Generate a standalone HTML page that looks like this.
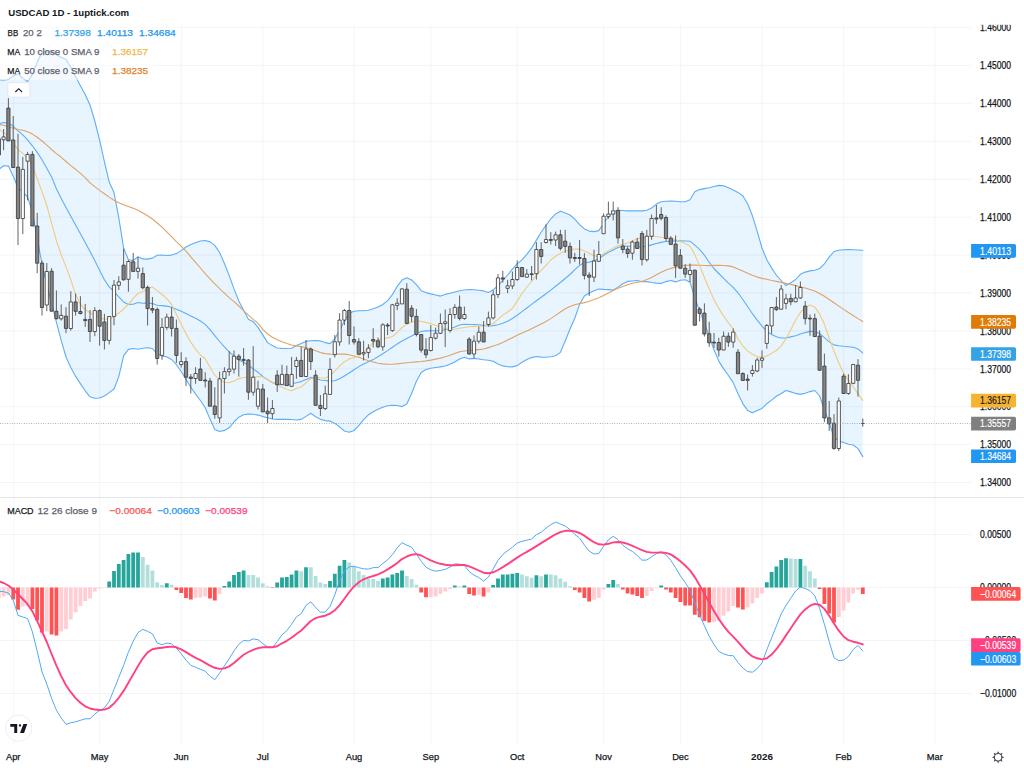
<!DOCTYPE html>
<html><head><meta charset="utf-8"><title>USDCAD 1D - 1uptick.com</title>
<style>html,body{margin:0;padding:0;background:#fff;overflow:hidden}svg{display:block}</style></head>
<body>
<svg width="1024" height="768" viewBox="0 0 1024 768" font-family="'Liberation Sans', sans-serif">
<rect width="1024" height="768" fill="#fff"/>
<path d="M13.7,24.5V745M99.6,24.5V745M181.2,24.5V745M262.8,24.5V745M354.0,24.5V745M430.8,24.5V745M517.2,24.5V745M603.6,24.5V745M680.4,24.5V745M762.0,24.5V745M843.6,24.5V745M934.8,24.5V745M0,27.5H971.0M0,65.4H971.0M0,103.3H971.0M0,141.3H971.0M0,179.2H971.0M0,217.1H971.0M0,255.0H971.0M0,292.9H971.0M0,330.9H971.0M0,368.8H971.0M0,406.7H971.0M0,444.6H971.0M0,482.5H971.0M0,534.5H971.0M0,587.5H971.0M0,640.5H971.0M0,693.5H971.0" stroke="#f0f1f4" stroke-width="0.8" fill="none"/>
<path d="M0,497.5H1024" stroke="#e0e3eb" stroke-width="1"/>
<path d="M-1.2,79.7 L3.6,80.3 L8.4,79.5 L13.2,75.9 L18.0,73.7 L22.8,78.4 L27.6,81.5 L32.4,74.4 L37.2,62.3 L42.0,52.3 L46.8,51.6 L51.6,52.1 L56.4,54.6 L61.2,57.4 L66.0,59.2 L70.8,67.2 L75.6,76.6 L80.4,85.8 L85.2,94.4 L90.0,105.0 L94.8,121.0 L99.6,140.1 L104.4,161.7 L109.2,182.1 L114.0,192.6 L118.8,217.9 L123.6,247.9 L128.4,259.8 L133.2,260.4 L138.0,256.8 L142.8,258.9 L147.6,259.1 L152.4,258.1 L157.2,255.2 L162.0,255.0 L166.8,255.5 L171.6,255.1 L176.4,253.6 L181.2,250.6 L186.0,247.0 L190.8,244.6 L195.6,242.8 L200.4,241.0 L205.2,240.5 L210.0,241.9 L214.8,245.4 L219.6,252.5 L224.4,263.5 L229.2,275.6 L234.0,288.9 L238.8,301.0 L243.6,310.3 L248.4,319.3 L253.2,321.7 L258.0,327.4 L262.8,334.9 L267.6,342.6 L272.4,345.6 L277.2,348.0 L282.0,348.4 L286.8,348.5 L291.6,348.3 L296.4,345.6 L301.2,343.5 L306.0,341.4 L310.8,340.8 L315.6,340.5 L320.4,340.9 L325.2,342.6 L330.0,343.6 L334.8,338.8 L339.6,330.3 L344.4,320.7 L349.2,313.2 L354.0,311.2 L358.8,310.8 L363.6,310.7 L368.4,310.3 L373.2,308.8 L378.0,307.1 L382.8,304.5 L387.6,300.6 L392.4,294.6 L397.2,286.3 L402.0,280.1 L406.8,277.7 L411.6,279.9 L416.4,284.7 L421.2,290.7 L426.0,292.6 L430.8,293.9 L435.6,295.0 L440.4,296.1 L445.2,294.4 L450.0,293.3 L454.8,292.0 L459.6,290.8 L464.4,290.0 L469.2,289.5 L474.0,289.8 L478.8,290.2 L483.6,290.9 L488.4,292.4 L493.2,289.8 L498.0,285.7 L502.8,280.4 L507.6,275.0 L512.4,269.2 L517.2,263.9 L522.0,259.8 L526.8,254.4 L531.6,248.2 L536.4,240.1 L541.2,232.0 L546.0,225.4 L550.8,218.8 L555.6,213.9 L560.4,211.3 L565.2,213.0 L570.0,215.0 L574.8,219.2 L579.6,224.6 L584.4,228.9 L589.2,231.1 L594.0,231.6 L598.8,230.6 L603.6,223.3 L608.4,216.7 L613.2,211.8 L618.0,210.4 L622.8,210.5 L627.6,210.9 L632.4,210.9 L637.2,210.8 L642.0,210.9 L646.8,210.2 L651.6,208.0 L656.4,204.1 L661.2,201.8 L666.0,201.2 L670.8,201.0 L675.6,201.2 L680.4,201.8 L685.2,201.8 L690.0,199.8 L694.8,191.7 L699.6,189.6 L704.4,188.6 L709.2,187.7 L714.0,186.5 L718.8,185.4 L723.6,185.7 L728.4,187.7 L733.2,190.0 L738.0,192.4 L742.8,195.8 L747.6,203.8 L752.4,215.7 L757.2,231.3 L762.0,248.0 L766.8,259.7 L771.6,267.9 L776.4,275.3 L781.2,280.5 L786.0,285.6 L790.8,282.8 L795.6,279.5 L800.4,274.3 L805.2,272.1 L810.0,270.9 L814.8,270.3 L819.6,268.6 L824.4,263.8 L829.2,257.1 L834.0,251.5 L838.8,250.3 L843.6,249.8 L848.4,249.6 L853.2,249.7 L858.0,250.0 L862.8,250.2 L862.8,456.6 L858.0,448.6 L853.2,445.0 L848.4,444.2 L843.6,442.6 L838.8,440.9 L834.0,437.2 L829.2,423.1 L824.4,409.7 L819.6,396.0 L814.8,390.5 L810.0,391.6 L805.2,393.2 L800.4,394.4 L795.6,393.4 L790.8,391.9 L786.0,390.5 L781.2,393.5 L776.4,396.3 L771.6,400.1 L766.8,403.7 L762.0,408.4 L757.2,410.6 L752.4,412.7 L747.6,410.4 L742.8,403.6 L738.0,393.8 L733.2,382.6 L728.4,375.5 L723.6,368.9 L718.8,361.1 L714.0,349.8 L709.2,336.4 L704.4,323.1 L699.6,311.1 L694.8,297.5 L690.0,282.2 L685.2,279.7 L680.4,280.2 L675.6,281.9 L670.8,280.5 L666.0,281.6 L661.2,283.4 L656.4,283.1 L651.6,282.5 L646.8,281.6 L642.0,281.7 L637.2,280.5 L632.4,281.0 L627.6,281.4 L622.8,283.7 L618.0,287.1 L613.2,290.1 L608.4,289.6 L603.6,289.4 L598.8,289.0 L594.0,290.8 L589.2,293.1 L584.4,295.9 L579.6,304.4 L574.8,318.2 L570.0,329.0 L565.2,341.0 L560.4,352.4 L555.6,355.7 L550.8,356.8 L546.0,357.2 L541.2,357.1 L536.4,356.5 L531.6,357.6 L526.8,359.5 L522.0,362.3 L517.2,365.6 L512.4,366.9 L507.6,366.8 L502.8,365.9 L498.0,364.0 L493.2,361.3 L488.4,360.2 L483.6,359.7 L478.8,359.0 L474.0,358.4 L469.2,358.9 L464.4,357.3 L459.6,359.1 L454.8,361.9 L450.0,364.2 L445.2,366.0 L440.4,366.9 L435.6,367.5 L430.8,368.3 L426.0,369.5 L421.2,372.5 L416.4,381.2 L411.6,393.6 L406.8,403.9 L402.0,406.6 L397.2,405.5 L392.4,405.2 L387.6,405.7 L382.8,407.3 L378.0,409.3 L373.2,411.8 L368.4,414.8 L363.6,419.7 L358.8,425.7 L354.0,430.5 L349.2,432.3 L344.4,431.0 L339.6,426.8 L334.8,423.4 L330.0,421.1 L325.2,420.6 L320.4,419.2 L315.6,416.8 L310.8,413.3 L306.0,416.4 L301.2,419.4 L296.4,420.0 L291.6,419.5 L286.8,419.4 L282.0,419.4 L277.2,419.4 L272.4,419.0 L267.6,417.8 L262.8,416.6 L258.0,415.1 L253.2,414.3 L248.4,414.1 L243.6,414.8 L238.8,417.2 L234.0,422.0 L229.2,427.8 L224.4,430.4 L219.6,431.5 L214.8,429.4 L210.0,419.1 L205.2,407.7 L200.4,400.5 L195.6,394.1 L190.8,387.2 L186.0,379.3 L181.2,371.5 L176.4,364.7 L171.6,359.5 L166.8,357.0 L162.0,355.9 L157.2,354.1 L152.4,348.5 L147.6,347.7 L142.8,348.3 L138.0,349.2 L133.2,348.5 L128.4,349.4 L123.6,355.9 L118.8,376.6 L114.0,389.0 L109.2,392.6 L104.4,396.0 L99.6,398.0 L94.8,398.2 L90.0,396.8 L85.2,390.8 L80.4,383.6 L75.6,376.4 L70.8,367.6 L66.0,357.0 L61.2,340.3 L56.4,322.1 L51.6,303.3 L46.8,284.7 L42.0,264.4 L37.2,238.2 L32.4,212.4 L27.6,197.0 L22.8,192.1 L18.0,187.7 L13.2,176.2 L8.4,166.1 L3.6,165.8 L-1.2,169.4Z" fill="#2196f3" fill-opacity="0.1"/>
<g fill="none" stroke-linejoin="round" stroke-linecap="round">
<path d="M-1.2,123.8 L3.6,122.5 L8.4,123.0 L13.2,126.1 L18.0,130.8 L22.8,134.9 L27.6,139.8 L32.4,145.8 L37.2,152.4 L42.0,159.8 L46.8,168.2 L51.6,176.9 L56.4,188.8 L61.2,198.4 L66.0,207.4 L70.8,216.2 L75.6,225.0 L80.4,233.8 L85.2,242.6 L90.0,251.4 L94.8,260.6 L99.6,270.2 L104.4,279.7 L109.2,286.9 L114.0,291.7 L118.8,296.8 L123.6,301.9 L128.4,304.4 L133.2,304.2 L138.0,302.5 L142.8,303.2 L147.6,303.0 L152.4,303.6 L157.2,305.2 L162.0,305.6 L166.8,306.1 L171.6,307.2 L176.4,309.2 L181.2,311.2 L186.0,313.5 L190.8,315.9 L195.6,318.3 L200.4,321.0 L205.2,324.4 L210.0,329.6 L214.8,335.6 L219.6,341.5 L224.4,346.9 L229.2,351.9 L234.0,356.1 L238.8,359.9 L243.6,362.2 L248.4,365.3 L253.2,368.9 L258.0,372.3 L262.8,376.5 L267.6,379.8 L272.4,382.5 L277.2,384.1 L282.0,384.8 L286.8,385.0 L291.6,383.8 L296.4,382.7 L301.2,381.6 L306.0,379.5 L310.8,377.4 L315.6,378.4 L320.4,380.0 L325.2,380.5 L330.0,381.1 L334.8,380.8 L339.6,378.7 L344.4,375.9 L349.2,373.0 L354.0,369.7 L358.8,366.6 L363.6,363.9 L368.4,361.7 L373.2,359.6 L378.0,356.7 L382.8,353.8 L387.6,350.6 L392.4,347.3 L397.2,343.9 L402.0,341.1 L406.8,338.5 L411.6,335.9 L416.4,333.4 L421.2,331.5 L426.0,330.9 L430.8,330.8 L435.6,330.8 L440.4,330.7 L445.2,329.7 L450.0,328.7 L454.8,327.0 L459.6,325.0 L464.4,324.2 L469.2,324.5 L474.0,324.5 L478.8,324.8 L483.6,325.4 L488.4,325.9 L493.2,325.6 L498.0,324.7 L502.8,323.2 L507.6,321.3 L512.4,318.5 L517.2,315.2 L522.0,311.6 L526.8,308.0 L531.6,304.4 L536.4,300.8 L541.2,297.2 L546.0,293.7 L550.8,290.1 L555.6,286.3 L560.4,282.5 L565.2,278.5 L570.0,274.5 L574.8,269.7 L579.6,265.3 L584.4,262.8 L589.2,262.1 L594.0,260.8 L598.8,258.9 L603.6,255.3 L608.4,252.3 L613.2,249.9 L618.0,247.5 L622.8,246.2 L627.6,246.0 L632.4,246.5 L637.2,246.9 L642.0,246.7 L646.8,246.2 L651.6,244.9 L656.4,243.5 L661.2,242.4 L666.0,241.5 L670.8,241.1 L675.6,240.9 L680.4,240.8 L685.2,241.0 L690.0,241.2 L694.8,245.2 L699.6,249.4 L704.4,255.2 L709.2,262.3 L714.0,268.5 L718.8,273.5 L723.6,278.4 L728.4,283.1 L733.2,287.4 L738.0,292.8 L742.8,299.5 L747.6,306.5 L752.4,313.7 L757.2,320.2 L762.0,326.2 L766.8,331.2 L771.6,334.6 L776.4,336.7 L781.2,338.0 L786.0,338.0 L790.8,336.9 L795.6,335.7 L800.4,334.1 L805.2,332.6 L810.0,331.4 L814.8,331.4 L819.6,333.5 L824.4,337.7 L829.2,341.9 L834.0,344.9 L838.8,345.7 L843.6,346.3 L848.4,346.7 L853.2,347.3 L858.0,348.9 L862.8,353.2" stroke="#5eaef6" stroke-width="1.1"/>
<path d="M-1.2,79.7 L3.6,80.3 L8.4,79.5 L13.2,75.9 L18.0,73.7 L22.8,78.4 L27.6,81.5 L32.4,74.4 L37.2,62.3 L42.0,52.3 L46.8,51.6 L51.6,52.1 L56.4,54.6 L61.2,57.4 L66.0,59.2 L70.8,67.2 L75.6,76.6 L80.4,85.8 L85.2,94.4 L90.0,105.0 L94.8,121.0 L99.6,140.1 L104.4,161.7 L109.2,182.1 L114.0,192.6 L118.8,217.9 L123.6,247.9 L128.4,259.8 L133.2,260.4 L138.0,256.8 L142.8,258.9 L147.6,259.1 L152.4,258.1 L157.2,255.2 L162.0,255.0 L166.8,255.5 L171.6,255.1 L176.4,253.6 L181.2,250.6 L186.0,247.0 L190.8,244.6 L195.6,242.8 L200.4,241.0 L205.2,240.5 L210.0,241.9 L214.8,245.4 L219.6,252.5 L224.4,263.5 L229.2,275.6 L234.0,288.9 L238.8,301.0 L243.6,310.3 L248.4,319.3 L253.2,321.7 L258.0,327.4 L262.8,334.9 L267.6,342.6 L272.4,345.6 L277.2,348.0 L282.0,348.4 L286.8,348.5 L291.6,348.3 L296.4,345.6 L301.2,343.5 L306.0,341.4 L310.8,340.8 L315.6,340.5 L320.4,340.9 L325.2,342.6 L330.0,343.6 L334.8,338.8 L339.6,330.3 L344.4,320.7 L349.2,313.2 L354.0,311.2 L358.8,310.8 L363.6,310.7 L368.4,310.3 L373.2,308.8 L378.0,307.1 L382.8,304.5 L387.6,300.6 L392.4,294.6 L397.2,286.3 L402.0,280.1 L406.8,277.7 L411.6,279.9 L416.4,284.7 L421.2,290.7 L426.0,292.6 L430.8,293.9 L435.6,295.0 L440.4,296.1 L445.2,294.4 L450.0,293.3 L454.8,292.0 L459.6,290.8 L464.4,290.0 L469.2,289.5 L474.0,289.8 L478.8,290.2 L483.6,290.9 L488.4,292.4 L493.2,289.8 L498.0,285.7 L502.8,280.4 L507.6,275.0 L512.4,269.2 L517.2,263.9 L522.0,259.8 L526.8,254.4 L531.6,248.2 L536.4,240.1 L541.2,232.0 L546.0,225.4 L550.8,218.8 L555.6,213.9 L560.4,211.3 L565.2,213.0 L570.0,215.0 L574.8,219.2 L579.6,224.6 L584.4,228.9 L589.2,231.1 L594.0,231.6 L598.8,230.6 L603.6,223.3 L608.4,216.7 L613.2,211.8 L618.0,210.4 L622.8,210.5 L627.6,210.9 L632.4,210.9 L637.2,210.8 L642.0,210.9 L646.8,210.2 L651.6,208.0 L656.4,204.1 L661.2,201.8 L666.0,201.2 L670.8,201.0 L675.6,201.2 L680.4,201.8 L685.2,201.8 L690.0,199.8 L694.8,191.7 L699.6,189.6 L704.4,188.6 L709.2,187.7 L714.0,186.5 L718.8,185.4 L723.6,185.7 L728.4,187.7 L733.2,190.0 L738.0,192.4 L742.8,195.8 L747.6,203.8 L752.4,215.7 L757.2,231.3 L762.0,248.0 L766.8,259.7 L771.6,267.9 L776.4,275.3 L781.2,280.5 L786.0,285.6 L790.8,282.8 L795.6,279.5 L800.4,274.3 L805.2,272.1 L810.0,270.9 L814.8,270.3 L819.6,268.6 L824.4,263.8 L829.2,257.1 L834.0,251.5 L838.8,250.3 L843.6,249.8 L848.4,249.6 L853.2,249.7 L858.0,250.0 L862.8,250.2" stroke="#5eaef6" stroke-width="1.1"/>
<path d="M-1.2,169.4 L3.6,165.8 L8.4,166.1 L13.2,176.2 L18.0,187.7 L22.8,192.1 L27.6,197.0 L32.4,212.4 L37.2,238.2 L42.0,264.4 L46.8,284.7 L51.6,303.3 L56.4,322.1 L61.2,340.3 L66.0,357.0 L70.8,367.6 L75.6,376.4 L80.4,383.6 L85.2,390.8 L90.0,396.8 L94.8,398.2 L99.6,398.0 L104.4,396.0 L109.2,392.6 L114.0,389.0 L118.8,376.6 L123.6,355.9 L128.4,349.4 L133.2,348.5 L138.0,349.2 L142.8,348.3 L147.6,347.7 L152.4,348.5 L157.2,354.1 L162.0,355.9 L166.8,357.0 L171.6,359.5 L176.4,364.7 L181.2,371.5 L186.0,379.3 L190.8,387.2 L195.6,394.1 L200.4,400.5 L205.2,407.7 L210.0,419.1 L214.8,429.4 L219.6,431.5 L224.4,430.4 L229.2,427.8 L234.0,422.0 L238.8,417.2 L243.6,414.8 L248.4,414.1 L253.2,414.3 L258.0,415.1 L262.8,416.6 L267.6,417.8 L272.4,419.0 L277.2,419.4 L282.0,419.4 L286.8,419.4 L291.6,419.5 L296.4,420.0 L301.2,419.4 L306.0,416.4 L310.8,413.3 L315.6,416.8 L320.4,419.2 L325.2,420.6 L330.0,421.1 L334.8,423.4 L339.6,426.8 L344.4,431.0 L349.2,432.3 L354.0,430.5 L358.8,425.7 L363.6,419.7 L368.4,414.8 L373.2,411.8 L378.0,409.3 L382.8,407.3 L387.6,405.7 L392.4,405.2 L397.2,405.5 L402.0,406.6 L406.8,403.9 L411.6,393.6 L416.4,381.2 L421.2,372.5 L426.0,369.5 L430.8,368.3 L435.6,367.5 L440.4,366.9 L445.2,366.0 L450.0,364.2 L454.8,361.9 L459.6,359.1 L464.4,357.3 L469.2,358.9 L474.0,358.4 L478.8,359.0 L483.6,359.7 L488.4,360.2 L493.2,361.3 L498.0,364.0 L502.8,365.9 L507.6,366.8 L512.4,366.9 L517.2,365.6 L522.0,362.3 L526.8,359.5 L531.6,357.6 L536.4,356.5 L541.2,357.1 L546.0,357.2 L550.8,356.8 L555.6,355.7 L560.4,352.4 L565.2,341.0 L570.0,329.0 L574.8,318.2 L579.6,304.4 L584.4,295.9 L589.2,293.1 L594.0,290.8 L598.8,289.0 L603.6,289.4 L608.4,289.6 L613.2,290.1 L618.0,287.1 L622.8,283.7 L627.6,281.4 L632.4,281.0 L637.2,280.5 L642.0,281.7 L646.8,281.6 L651.6,282.5 L656.4,283.1 L661.2,283.4 L666.0,281.6 L670.8,280.5 L675.6,281.9 L680.4,280.2 L685.2,279.7 L690.0,282.2 L694.8,297.5 L699.6,311.1 L704.4,323.1 L709.2,336.4 L714.0,349.8 L718.8,361.1 L723.6,368.9 L728.4,375.5 L733.2,382.6 L738.0,393.8 L742.8,403.6 L747.6,410.4 L752.4,412.7 L757.2,410.6 L762.0,408.4 L766.8,403.7 L771.6,400.1 L776.4,396.3 L781.2,393.5 L786.0,390.5 L790.8,391.9 L795.6,393.4 L800.4,394.4 L805.2,393.2 L810.0,391.6 L814.8,390.5 L819.6,396.0 L824.4,409.7 L829.2,423.1 L834.0,437.2 L838.8,440.9 L843.6,442.6 L848.4,444.2 L853.2,445.0 L858.0,448.6 L862.8,456.6" stroke="#5eaef6" stroke-width="1.1"/>
<path d="M-1.2,124.4 L3.6,125.3 L8.4,126.7 L13.2,128.2 L18.0,129.5 L22.8,130.3 L27.6,131.7 L32.4,134.1 L37.2,137.3 L42.0,141.0 L46.8,145.2 L51.6,149.5 L56.4,153.6 L61.2,157.3 L66.0,161.5 L70.8,165.6 L75.6,169.3 L80.4,173.4 L85.2,177.6 L90.0,182.9 L94.8,186.6 L99.6,190.4 L104.4,193.8 L109.2,197.1 L114.0,200.2 L118.8,202.7 L123.6,204.8 L128.4,206.4 L133.2,208.3 L138.0,210.3 L142.8,213.0 L147.6,215.7 L152.4,219.0 L157.2,223.0 L162.0,227.1 L166.8,231.8 L171.6,236.6 L176.4,241.7 L181.2,246.1 L186.0,251.2 L190.8,256.8 L195.6,262.4 L200.4,268.0 L205.2,273.6 L210.0,278.8 L214.8,283.9 L219.6,288.7 L224.4,293.2 L229.2,297.6 L234.0,301.6 L238.8,306.0 L243.6,310.6 L248.4,315.2 L253.2,319.4 L258.0,323.4 L262.8,329.3 L267.6,334.0 L272.4,337.2 L277.2,339.7 L282.0,341.8 L286.8,343.5 L291.6,345.0 L296.4,345.9 L301.2,346.6 L306.0,347.8 L310.8,349.1 L315.6,350.8 L320.4,352.6 L325.2,353.6 L330.0,354.1 L334.8,354.3 L339.6,354.0 L344.4,354.1 L349.2,354.8 L354.0,356.0 L358.8,357.3 L363.6,358.9 L368.4,360.7 L373.2,362.0 L378.0,363.3 L382.8,363.9 L387.6,364.3 L392.4,364.3 L397.2,363.9 L402.0,363.3 L406.8,362.7 L411.6,362.3 L416.4,361.9 L421.2,361.5 L426.0,360.9 L430.8,360.1 L435.6,359.1 L440.4,358.1 L445.2,356.8 L450.0,355.3 L454.8,353.5 L459.6,351.8 L464.4,351.0 L469.2,350.5 L474.0,350.1 L478.8,349.6 L483.6,349.0 L488.4,347.6 L493.2,346.1 L498.0,344.5 L502.8,342.5 L507.6,340.1 L512.4,337.7 L517.2,335.3 L522.0,333.0 L526.8,331.1 L531.6,328.7 L536.4,326.3 L541.2,323.9 L546.0,321.5 L550.8,318.6 L555.6,315.4 L560.4,312.0 L565.2,308.8 L570.0,306.4 L574.8,304.8 L579.6,303.6 L584.4,302.6 L589.2,301.3 L594.0,299.6 L598.8,297.7 L603.6,295.4 L608.4,293.0 L613.2,290.6 L618.0,288.3 L622.8,286.4 L627.6,284.8 L632.4,283.3 L637.2,282.2 L642.0,281.4 L646.8,279.5 L651.6,277.4 L656.4,274.8 L661.2,272.3 L666.0,270.0 L670.8,268.4 L675.6,267.1 L680.4,266.2 L685.2,265.5 L690.0,265.1 L694.8,265.1 L699.6,265.3 L704.4,265.5 L709.2,265.6 L714.0,265.4 L718.8,265.4 L723.6,265.5 L728.4,265.9 L733.2,266.9 L738.0,269.0 L742.8,271.1 L747.6,273.3 L752.4,275.3 L757.2,277.1 L762.0,278.4 L766.8,279.3 L771.6,280.5 L776.4,281.4 L781.2,282.4 L786.0,283.4 L790.8,284.4 L795.6,285.6 L800.4,286.7 L805.2,288.0 L810.0,289.5 L814.8,291.0 L819.6,293.6 L824.4,296.3 L829.2,299.5 L834.0,302.8 L838.8,306.1 L843.6,309.4 L848.4,312.5 L853.2,315.5 L858.0,318.6 L862.8,321.5" stroke="#e0a365" stroke-width="1.1"/>
<path d="M-1.2,129.4 L3.6,132.4 L8.4,136.4 L13.2,142.7 L18.0,149.8 L22.8,153.4 L27.6,158.1 L32.4,166.1 L37.2,178.6 L42.0,191.8 L46.8,205.5 L51.6,223.1 L56.4,240.7 L61.2,254.9 L66.0,266.9 L70.8,279.9 L75.6,294.3 L80.4,304.5 L85.2,309.4 L90.0,312.7 L94.8,315.5 L99.6,317.6 L104.4,319.3 L109.2,318.8 L114.0,316.4 L118.8,313.0 L123.6,309.0 L128.4,304.4 L133.2,298.4 L138.0,293.4 L142.8,291.4 L147.6,288.7 L152.4,287.0 L157.2,290.6 L162.0,294.5 L166.8,298.6 L171.6,304.4 L176.4,314.5 L181.2,324.1 L186.0,333.8 L190.8,342.1 L195.6,349.4 L200.4,355.0 L205.2,358.8 L210.0,367.2 L214.8,375.2 L219.6,379.8 L224.4,382.3 L229.2,382.7 L234.0,380.9 L238.8,378.6 L243.6,377.5 L248.4,377.2 L253.2,377.1 L258.0,376.5 L262.8,376.8 L267.6,379.8 L272.4,382.7 L277.2,384.9 L282.0,387.2 L286.8,389.3 L291.6,390.8 L296.4,388.6 L301.2,387.0 L306.0,382.8 L310.8,378.7 L315.6,377.4 L320.4,377.8 L325.2,378.0 L330.0,375.8 L334.8,371.2 L339.6,366.0 L344.4,361.7 L349.2,358.9 L354.0,357.8 L358.8,355.9 L363.6,352.2 L368.4,348.1 L373.2,342.6 L378.0,339.7 L382.8,338.7 L387.6,337.9 L392.4,336.5 L397.2,332.3 L402.0,327.5 L406.8,324.4 L411.6,322.1 L416.4,320.9 L421.2,321.5 L426.0,322.4 L430.8,323.7 L435.6,325.2 L440.4,327.1 L445.2,328.7 L450.0,329.5 L454.8,329.2 L459.6,328.3 L464.4,327.5 L469.2,326.8 L474.0,326.4 L478.8,326.2 L483.6,326.0 L488.4,325.3 L493.2,323.5 L498.0,319.3 L502.8,315.1 L507.6,312.0 L512.4,308.5 L517.2,301.1 L522.0,293.5 L526.8,287.0 L531.6,281.5 L536.4,275.6 L541.2,270.2 L546.0,265.4 L550.8,260.0 L555.6,256.3 L560.4,253.2 L565.2,251.3 L570.0,250.0 L574.8,249.1 L579.6,249.1 L584.4,250.9 L589.2,253.2 L594.0,255.7 L598.8,256.5 L603.6,253.7 L608.4,251.1 L613.2,248.1 L618.0,245.6 L622.8,244.3 L627.6,243.1 L632.4,240.9 L637.2,238.8 L642.0,237.4 L646.8,236.8 L651.6,236.3 L656.4,236.5 L661.2,237.3 L666.0,238.0 L670.8,238.5 L675.6,239.8 L680.4,241.5 L685.2,243.4 L690.0,246.0 L694.8,254.6 L699.6,265.6 L704.4,277.5 L709.2,288.7 L714.0,299.6 L718.8,308.4 L723.6,316.1 L728.4,322.6 L733.2,328.8 L738.0,339.0 L742.8,345.8 L747.6,350.9 L752.4,354.3 L757.2,356.6 L762.0,357.4 L766.8,355.9 L771.6,353.4 L776.4,350.5 L781.2,345.8 L786.0,338.9 L790.8,329.7 L795.6,320.0 L800.4,312.5 L805.2,307.4 L810.0,305.1 L814.8,307.1 L819.6,313.9 L824.4,324.1 L829.2,338.5 L834.0,351.3 L838.8,363.0 L843.6,373.4 L848.4,379.9 L853.2,386.7 L858.0,393.9 L862.8,400.4" stroke="#f2cb7c" stroke-width="1.1"/>
</g>
<path d="M-1.2,135.0V157.0M3.6,129.0V150.2M8.4,98.1V141.0M13.2,116.0V168.0M18.0,133.8V245.0M22.8,156.9V234.1M27.6,151.9V200.4M32.4,151.2V226.0M37.2,212.9V273.1M42.0,260.6V315.6M46.8,263.0V311.2M51.6,268.0V311.2M56.4,290.4V319.4M61.2,304.4V320.6M66.0,307.2V333.1M70.8,291.2V330.6M75.6,293.5V315.6M80.4,296.2V314.4M85.2,304.0V326.9M90.0,310.0V341.9M94.8,307.2V336.2M99.6,309.4V345.6M104.4,313.8V349.4M109.2,316.5V344.4M114.0,280.0V325.2M118.8,276.2V290.0M123.6,248.6V280.6M128.4,260.2V291.8M133.2,253.0V271.4M138.0,256.8V278.6M142.8,267.4V289.2M147.6,285.5V325.5M152.4,297.0V313.2M157.2,307.4V364.5M162.0,318.0V359.8M166.8,313.6V329.9M171.6,307.4V336.5M176.4,319.5V362.9M181.2,352.2V367.5M186.0,357.2V386.0M190.8,374.0V393.5M195.6,367.2V383.8M200.4,357.9V380.4M205.2,372.2V387.5M210.0,377.9V406.2M214.8,387.2V418.8M219.6,371.6V422.9M224.4,367.2V393.5M229.2,351.2V375.8M234.0,350.4V373.5M238.8,354.1V376.6M243.6,348.1V365.6M248.4,359.0V399.8M253.2,346.2V395.6M258.0,380.6V409.4M262.8,384.0V411.9M267.6,397.5V423.1M272.4,400.0V419.0M277.2,370.2V391.9M282.0,364.8V384.4M286.8,365.6V385.6M291.6,356.9V386.9M296.4,356.9V378.8M301.2,346.9V376.5M306.0,340.0V376.9M310.8,347.5V370.0M315.6,370.2V405.4M320.4,395.0V416.0M325.2,385.6V410.0M330.0,358.1V394.4M334.8,335.1V357.6M339.6,313.2V345.8M344.4,308.9V325.1M349.2,301.0V344.5M354.0,326.4V344.5M358.8,338.2V354.5M363.6,340.8V360.5M368.4,344.2V358.2M373.2,328.2V347.6M378.0,337.6V348.2M382.8,323.2V350.8M387.6,323.0V335.1M392.4,303.9V331.8M397.2,298.2V310.1M402.0,288.2V303.9M406.8,283.2V323.9M411.6,305.1V322.0M416.4,308.9V336.4M421.2,334.5V352.6M426.0,338.2V358.2M430.8,325.1V351.4M435.6,327.6V339.5M440.4,313.5V333.9M445.2,309.5V347.0M450.0,308.2V332.6M454.8,304.2V318.7M459.6,295.4V320.4M464.4,306.6V319.8M469.2,337.2V354.5M474.0,335.4V358.2M478.8,326.6V343.5M483.6,321.0V342.0M488.4,311.6V326.6M493.2,290.4V319.5M498.0,274.1V297.9M502.8,270.8V282.6M507.6,279.8V293.2M512.4,271.6V289.1M517.2,260.4V281.0M522.0,267.0V276.6M526.8,269.1V277.5M531.6,266.0V280.4M536.4,242.2V279.5M541.2,242.2V263.5M546.0,224.5V243.5M550.8,232.2V244.5M555.6,231.6V246.0M560.4,229.8V250.4M565.2,229.8V252.9M570.0,242.5V263.5M574.8,252.9V262.0M579.6,240.0V264.5M584.4,253.2V279.5M589.2,272.2V296.0M594.0,249.8V282.0M598.8,241.0V261.6M603.6,213.5V234.0M608.4,201.6V218.8M613.2,201.6V220.4M618.0,207.2V243.5M622.8,239.1V253.2M627.6,246.6V257.9M632.4,240.4V259.8M637.2,237.9V249.0M642.0,231.0V265.4M646.8,229.8V261.6M651.6,214.5V239.8M656.4,205.0V223.8M661.2,207.2V220.4M666.0,215.4V241.2M670.8,236.2V244.5M675.6,235.4V277.9M680.4,249.1V268.5M685.2,264.1V277.9M690.0,263.5V282.2M694.8,269.6V325.5M699.6,307.1V321.5M704.4,303.4V336.5M709.2,321.8V346.8M714.0,333.0V347.8M718.8,337.8V356.5M723.6,331.5V350.2M728.4,332.5V346.8M733.2,328.4V347.8M738.0,349.1V373.8M742.8,372.2V381.0M747.6,374.5V390.4M752.4,365.0V376.6M757.2,357.9V372.2M762.0,350.4V367.9M766.8,324.0V348.8M771.6,307.0V333.8M776.4,297.1V310.9M781.2,285.0V309.6M786.0,293.8V309.2M790.8,293.8V305.2M795.6,285.0V302.1M800.4,281.5V298.8M805.2,301.1V324.5M810.0,314.5V335.8M814.8,313.6V336.5M819.6,330.5V371.0M824.4,353.6V422.2M829.2,401.0V431.0M834.0,414.1V449.8M838.8,397.5V451.0M843.6,373.6V394.0M848.4,374.2V394.8M853.2,364.0V384.1M858.0,359.2V396.6" stroke="#484848" stroke-width="0.85" fill="none"/>
<path d="M-2.8,138.8h3.2v16.2h-3.2zM6.8,108.1h3.2v32.8h-3.2zM11.6,140.0h3.2v27.5h-3.2zM16.4,167.1h3.2v51.4h-3.2zM30.8,154.4h3.2v71.6h-3.2zM35.6,226.0h3.2v37.2h-3.2zM40.4,263.1h3.2v44.4h-3.2zM50.0,271.2h3.2v40.0h-3.2zM54.8,311.2h3.2v7.5h-3.2zM64.4,316.2h3.2v12.2h-3.2zM74.0,301.9h3.2v9.4h-3.2zM78.8,311.5h3.2v2.0h-3.2zM83.6,319.4h3.2v1.2h-3.2zM88.4,319.4h3.2v12.1h-3.2zM98.0,310.6h3.2v15.6h-3.2zM102.8,321.9h3.2v18.5h-3.2zM122.0,265.2h3.2v14.6h-3.2zM131.6,261.8h3.2v9.6h-3.2zM141.2,273.6h3.2v14.1h-3.2zM146.0,287.4h3.2v21.2h-3.2zM150.8,308.6h3.2v1.5h-3.2zM155.6,309.5h3.2v49.0h-3.2zM170.0,317.1h3.2v11.3h-3.2zM174.8,328.4h3.2v27.0h-3.2zM184.4,361.6h3.2v15.6h-3.2zM189.2,377.0h3.2v1.5h-3.2zM198.8,369.0h3.2v11.4h-3.2zM203.6,380.0h3.2v1.0h-3.2zM208.4,381.0h3.2v25.2h-3.2zM213.2,406.0h3.2v8.5h-3.2zM237.2,356.2h3.2v3.2h-3.2zM242.0,359.4h3.2v1.0h-3.2zM246.8,360.0h3.2v32.2h-3.2zM261.2,389.0h3.2v22.9h-3.2zM266.0,411.2h3.2v2.5h-3.2zM275.6,375.2h3.2v9.5h-3.2zM285.2,374.4h3.2v11.2h-3.2zM299.6,360.4h3.2v16.1h-3.2zM309.2,349.0h3.2v12.5h-3.2zM314.0,375.2h3.2v30.1h-3.2zM318.8,405.4h3.2v3.1h-3.2zM347.6,310.5h3.2v25.0h-3.2zM352.4,339.5h3.2v2.5h-3.2zM357.2,341.8h3.2v12.5h-3.2zM371.6,339.5h3.2v1.6h-3.2zM376.4,340.8h3.2v6.0h-3.2zM386.0,325.1h3.2v0.9h-3.2zM405.2,289.2h3.2v34.2h-3.2zM410.0,308.2h3.2v8.1h-3.2zM414.8,316.4h3.2v18.1h-3.2zM419.6,334.5h3.2v15.6h-3.2zM424.4,349.8h3.2v5.0h-3.2zM458.0,307.2h3.2v11.2h-3.2zM467.6,339.1h3.2v14.9h-3.2zM482.0,332.2h3.2v9.8h-3.2zM501.2,277.9h3.2v1.2h-3.2zM520.4,267.5h3.2v9.1h-3.2zM530.0,273.8h3.2v0.8h-3.2zM539.6,249.5h3.2v6.9h-3.2zM549.2,239.5h3.2v0.9h-3.2zM558.8,234.8h3.2v13.5h-3.2zM563.6,241.2h3.2v5.2h-3.2zM568.4,246.4h3.2v11.5h-3.2zM573.2,257.5h3.2v1.0h-3.2zM578.0,257.5h3.2v1.0h-3.2zM582.8,258.5h3.2v16.9h-3.2zM587.6,275.0h3.2v2.2h-3.2zM616.4,210.4h3.2v27.5h-3.2zM621.2,246.0h3.2v3.5h-3.2zM626.0,249.1h3.2v4.4h-3.2zM635.6,242.0h3.2v6.5h-3.2zM640.4,233.5h3.2v26.0h-3.2zM654.8,217.9h3.2v1.2h-3.2zM659.6,214.5h3.2v3.8h-3.2zM664.4,217.5h3.2v21.0h-3.2zM669.2,238.2h3.2v6.2h-3.2zM674.0,244.1h3.2v21.7h-3.2zM678.8,255.4h3.2v12.8h-3.2zM683.6,268.2h3.2v5.9h-3.2zM693.2,270.2h3.2v55.0h-3.2zM698.0,309.0h3.2v4.4h-3.2zM702.8,313.1h3.2v20.9h-3.2zM707.6,333.8h3.2v9.0h-3.2zM712.4,342.1h3.2v0.9h-3.2zM717.2,342.5h3.2v7.5h-3.2zM726.8,336.2h3.2v5.9h-3.2zM736.4,352.2h3.2v21.5h-3.2zM741.2,373.5h3.2v6.9h-3.2zM746.0,379.1h3.2v1.3h-3.2zM774.8,307.1h3.2v2.5h-3.2zM789.2,298.4h3.2v3.4h-3.2zM803.6,306.1h3.2v12.5h-3.2zM808.4,318.2h3.2v0.8h-3.2zM813.2,318.6h3.2v17.9h-3.2zM818.0,336.1h3.2v34.1h-3.2zM822.8,366.1h3.2v51.8h-3.2zM827.6,417.9h3.2v5.9h-3.2zM832.4,423.2h3.2v25.2h-3.2zM842.0,376.1h3.2v17.4h-3.2zM856.4,365.2h3.2v15.1h-3.2z" stroke="#3c3c3c" stroke-width="0.85" fill="#858585"/>
<path d="M2.0,136.9h3.2v2.8h-3.2zM21.2,169.4h3.2v49.1h-3.2zM26.0,154.4h3.2v6.8h-3.2zM45.2,271.5h3.2v33.5h-3.2zM59.6,315.4h3.2v3.4h-3.2zM69.2,301.9h3.2v26.6h-3.2zM93.2,310.6h3.2v20.9h-3.2zM107.6,316.5h3.2v23.9h-3.2zM112.4,285.2h3.2v31.2h-3.2zM117.2,281.9h3.2v3.4h-3.2zM126.8,261.5h3.2v17.8h-3.2zM136.4,268.2h3.2v3.2h-3.2zM160.4,327.4h3.2v28.0h-3.2zM165.2,317.1h3.2v10.3h-3.2zM179.6,361.6h3.2v2.9h-3.2zM194.0,373.5h3.2v5.0h-3.2zM218.0,378.9h3.2v39.0h-3.2zM222.8,371.6h3.2v6.9h-3.2zM227.6,369.1h3.2v2.5h-3.2zM232.4,356.2h3.2v12.9h-3.2zM251.6,377.2h3.2v15.0h-3.2zM256.4,389.0h3.2v17.2h-3.2zM270.8,408.5h3.2v5.2h-3.2zM280.4,374.4h3.2v10.0h-3.2zM290.0,374.4h3.2v11.9h-3.2zM294.8,360.4h3.2v6.1h-3.2zM304.4,349.0h3.2v27.5h-3.2zM323.6,393.8h3.2v14.8h-3.2zM328.4,369.4h3.2v25.0h-3.2zM333.2,341.8h3.2v12.8h-3.2zM338.0,320.1h3.2v21.9h-3.2zM342.8,310.5h3.2v9.6h-3.2zM362.0,352.6h3.2v1.3h-3.2zM366.8,348.2h3.2v4.4h-3.2zM381.2,324.8h3.2v22.0h-3.2zM390.8,304.8h3.2v25.8h-3.2zM395.6,303.2h3.2v2.2h-3.2zM400.4,288.9h3.2v15.0h-3.2zM429.2,337.6h3.2v12.9h-3.2zM434.0,333.2h3.2v5.0h-3.2zM438.8,323.5h3.2v9.8h-3.2zM443.6,321.8h3.2v1.8h-3.2zM448.4,314.5h3.2v16.0h-3.2zM453.2,307.4h3.2v7.1h-3.2zM462.8,314.5h3.2v4.0h-3.2zM472.4,341.2h3.2v12.8h-3.2zM477.2,332.2h3.2v9.0h-3.2zM486.8,317.9h3.2v6.6h-3.2zM491.6,294.8h3.2v23.1h-3.2zM496.4,277.9h3.2v16.6h-3.2zM506.0,285.8h3.2v2.5h-3.2zM510.8,279.5h3.2v6.5h-3.2zM515.6,267.5h3.2v12.0h-3.2zM525.2,274.1h3.2v3.1h-3.2zM534.8,249.5h3.2v24.2h-3.2zM544.4,239.5h3.2v3.0h-3.2zM554.0,234.8h3.2v5.2h-3.2zM592.4,261.0h3.2v16.2h-3.2zM597.2,254.5h3.2v6.8h-3.2zM602.0,216.2h3.2v17.5h-3.2zM606.8,214.1h3.2v2.5h-3.2zM611.6,210.8h3.2v3.3h-3.2zM630.8,242.0h3.2v11.2h-3.2zM645.2,236.2h3.2v23.5h-3.2zM650.0,218.5h3.2v17.8h-3.2zM688.4,270.4h3.2v4.1h-3.2zM722.0,336.2h3.2v13.8h-3.2zM731.6,332.1h3.2v10.0h-3.2zM750.8,370.4h3.2v3.1h-3.2zM755.6,360.0h3.2v11.0h-3.2zM760.4,358.2h3.2v2.1h-3.2zM765.2,325.5h3.2v17.9h-3.2zM770.0,307.5h3.2v18.4h-3.2zM779.6,289.0h3.2v20.2h-3.2zM784.4,298.8h3.2v4.6h-3.2zM794.0,298.0h3.2v3.8h-3.2zM798.8,287.5h3.2v10.5h-3.2zM837.2,401.0h3.2v47.5h-3.2zM846.8,383.5h3.2v10.0h-3.2zM851.6,364.5h3.2v18.8h-3.2z" stroke="#3c3c3c" stroke-width="0.85" fill="#fff"/>
<path d="M862.8,418.6V426.6M860.9,423.5h3.8" stroke="#444" stroke-width="0.9" fill="none"/>
<path d="M0,423.5H971.0" stroke="#8a8a8a" stroke-width="0.8" stroke-dasharray="0.8 1.6"/>
<path d="M107.3,581.6h3.8v5.9h-3.8zM112.1,571.0h3.8v16.5h-3.8zM116.9,564.1h3.8v23.4h-3.8zM121.7,560.0h3.8v27.5h-3.8zM126.5,554.1h3.8v33.4h-3.8zM131.3,552.6h3.8v34.9h-3.8zM136.1,552.5h3.8v35.0h-3.8zM164.9,583.2h3.8v4.2h-3.8zM222.5,586.0h3.8v1.5h-3.8zM227.3,581.6h3.8v5.9h-3.8zM232.1,575.1h3.8v12.4h-3.8zM236.9,572.0h3.8v15.5h-3.8zM241.7,570.4h3.8v17.1h-3.8zM275.3,582.5h3.8v5.0h-3.8zM280.1,577.6h3.8v9.9h-3.8zM284.9,576.9h3.8v10.6h-3.8zM289.7,574.4h3.8v13.1h-3.8zM294.5,570.4h3.8v17.1h-3.8zM304.1,567.2h3.8v20.2h-3.8zM328.1,581.0h3.8v6.5h-3.8zM332.9,573.8h3.8v13.8h-3.8zM337.7,565.8h3.8v21.8h-3.8zM342.5,560.1h3.8v27.4h-3.8zM380.9,578.5h3.8v9.0h-3.8zM385.7,577.6h3.8v9.9h-3.8zM390.5,574.4h3.8v13.1h-3.8zM395.3,572.9h3.8v14.6h-3.8zM400.1,570.4h3.8v17.1h-3.8zM452.9,585.4h3.8v2.1h-3.8zM462.5,585.4h3.8v2.1h-3.8zM491.3,585.0h3.8v2.5h-3.8zM496.1,578.4h3.8v9.1h-3.8zM500.9,574.6h3.8v12.9h-3.8zM505.7,574.5h3.8v13.0h-3.8zM510.5,573.8h3.8v13.8h-3.8zM515.3,573.0h3.8v14.5h-3.8zM534.5,575.2h3.8v12.2h-3.8zM544.1,574.4h3.8v13.1h-3.8zM606.5,584.0h3.8v3.5h-3.8zM611.3,580.0h3.8v7.5h-3.8zM659.3,585.4h3.8v2.1h-3.8zM764.9,582.2h3.8v5.2h-3.8zM769.7,571.9h3.8v15.6h-3.8zM774.5,566.4h3.8v21.1h-3.8zM779.3,560.0h3.8v27.5h-3.8zM784.1,558.2h3.8v29.2h-3.8zM798.5,559.0h3.8v28.5h-3.8z" fill="#26a69a"/>
<path d="M140.9,556.9h3.8v30.6h-3.8zM145.7,564.8h3.8v22.8h-3.8zM150.5,570.4h3.8v17.1h-3.8zM155.3,582.2h3.8v5.2h-3.8zM160.1,585.0h3.8v2.5h-3.8zM169.7,584.8h3.8v2.8h-3.8zM246.5,575.0h3.8v12.5h-3.8zM251.3,575.0h3.8v12.5h-3.8zM256.1,577.5h3.8v10.0h-3.8zM260.9,583.2h3.8v4.2h-3.8zM265.7,586.2h3.8v1.2h-3.8zM299.3,571.2h3.8v16.2h-3.8zM308.9,567.2h3.8v20.2h-3.8zM313.7,576.0h3.8v11.5h-3.8zM318.5,582.5h3.8v5.0h-3.8zM323.3,584.1h3.8v3.4h-3.8zM347.3,562.5h3.8v25.0h-3.8zM352.1,566.6h3.8v20.9h-3.8zM356.9,571.2h3.8v16.2h-3.8zM361.7,575.1h3.8v12.4h-3.8zM366.5,578.5h3.8v9.0h-3.8zM371.3,579.1h3.8v8.4h-3.8zM376.1,581.0h3.8v6.5h-3.8zM404.9,576.0h3.8v11.5h-3.8zM409.7,579.1h3.8v8.4h-3.8zM414.5,584.8h3.8v2.8h-3.8zM457.7,586.4h3.8v1.1h-3.8zM520.1,574.4h3.8v13.1h-3.8zM524.9,576.2h3.8v11.2h-3.8zM529.7,577.8h3.8v9.8h-3.8zM539.3,576.2h3.8v11.2h-3.8zM548.9,574.4h3.8v13.1h-3.8zM553.7,575.2h3.8v12.2h-3.8zM558.5,578.4h3.8v9.1h-3.8zM563.3,581.8h3.8v5.8h-3.8zM568.1,586.2h3.8v1.2h-3.8zM616.1,584.0h3.8v3.5h-3.8zM788.9,558.4h3.8v29.1h-3.8zM793.7,559.1h3.8v28.4h-3.8zM803.3,565.8h3.8v21.8h-3.8zM808.1,571.2h3.8v16.2h-3.8zM812.9,578.5h3.8v9.0h-3.8z" fill="#b2dfdb"/>
<path d="M11.3,587.5h3.8v11.9h-3.8zM16.1,587.5h3.8v22.2h-3.8zM30.5,587.5h3.8v21.6h-3.8zM35.3,587.5h3.8v32.9h-3.8zM40.1,587.5h3.8v45.0h-3.8zM49.7,587.5h3.8v47.0h-3.8zM54.5,587.5h3.8v47.9h-3.8zM174.5,587.5h3.8v2.6h-3.8zM179.3,587.5h3.8v5.6h-3.8zM184.1,587.5h3.8v10.6h-3.8zM188.9,587.5h3.8v11.9h-3.8zM208.1,587.5h3.8v11.1h-3.8zM212.9,587.5h3.8v12.9h-3.8zM270.5,587.5h3.8v0.4h-3.8zM419.3,587.5h3.8v5.0h-3.8zM424.1,587.5h3.8v9.8h-3.8zM467.3,587.5h3.8v6.6h-3.8zM472.1,587.5h3.8v8.1h-3.8zM481.7,587.5h3.8v9.0h-3.8zM572.9,587.5h3.8v2.6h-3.8zM577.7,587.5h3.8v5.0h-3.8zM582.5,587.5h3.8v10.6h-3.8zM587.3,587.5h3.8v14.0h-3.8zM620.9,587.5h3.8v1.9h-3.8zM625.7,587.5h3.8v6.0h-3.8zM630.5,587.5h3.8v6.9h-3.8zM635.3,587.5h3.8v8.4h-3.8zM640.1,587.5h3.8v10.6h-3.8zM664.1,587.5h3.8v1.9h-3.8zM668.9,587.5h3.8v5.0h-3.8zM673.7,587.5h3.8v10.6h-3.8zM678.5,587.5h3.8v14.5h-3.8zM683.3,587.5h3.8v17.9h-3.8zM688.1,587.5h3.8v18.0h-3.8zM692.9,587.5h3.8v27.2h-3.8zM697.7,587.5h3.8v29.8h-3.8zM702.5,587.5h3.8v33.5h-3.8zM707.3,587.5h3.8v35.1h-3.8zM736.1,587.5h3.8v20.1h-3.8zM740.9,587.5h3.8v21.9h-3.8zM817.7,587.5h3.8v1.6h-3.8zM822.5,587.5h3.8v16.6h-3.8zM827.3,587.5h3.8v26.0h-3.8zM832.1,587.5h3.8v35.1h-3.8zM860.9,587.5h3.8v6.6h-3.8z" fill="#ff5252"/>
<path d="M-3.1,587.5h3.8v10.4h-3.8zM1.7,587.5h3.8v8.9h-3.8zM6.5,587.5h3.8v7.6h-3.8zM20.9,587.5h3.8v18.9h-3.8zM25.7,587.5h3.8v18.5h-3.8zM44.9,587.5h3.8v43.9h-3.8zM59.3,587.5h3.8v43.9h-3.8zM64.1,587.5h3.8v41.6h-3.8zM68.9,587.5h3.8v32.0h-3.8zM73.7,587.5h3.8v24.8h-3.8zM78.5,587.5h3.8v18.2h-3.8zM83.3,587.5h3.8v13.5h-3.8zM88.1,587.5h3.8v11.0h-3.8zM92.9,587.5h3.8v4.1h-3.8zM97.7,587.5h3.8v1.0h-3.8zM102.5,587.5h3.8v0.4h-3.8zM193.7,587.5h3.8v10.4h-3.8zM198.5,587.5h3.8v10.1h-3.8zM203.3,587.5h3.8v8.9h-3.8zM217.7,587.5h3.8v6.4h-3.8zM428.9,587.5h3.8v9.8h-3.8zM433.7,587.5h3.8v8.9h-3.8zM438.5,587.5h3.8v6.4h-3.8zM443.3,587.5h3.8v4.1h-3.8zM448.1,587.5h3.8v1.6h-3.8zM476.9,587.5h3.8v7.2h-3.8zM486.5,587.5h3.8v5.0h-3.8zM592.1,587.5h3.8v12.2h-3.8zM596.9,587.5h3.8v10.6h-3.8zM601.7,587.5h3.8v1.9h-3.8zM644.9,587.5h3.8v8.4h-3.8zM649.7,587.5h3.8v3.5h-3.8zM654.5,587.5h3.8v0.4h-3.8zM712.1,587.5h3.8v34.4h-3.8zM716.9,587.5h3.8v33.5h-3.8zM721.7,587.5h3.8v28.2h-3.8zM726.5,587.5h3.8v24.1h-3.8zM731.3,587.5h3.8v18.5h-3.8zM745.7,587.5h3.8v20.1h-3.8zM750.5,587.5h3.8v16.0h-3.8zM755.3,587.5h3.8v10.6h-3.8zM760.1,587.5h3.8v6.0h-3.8zM836.9,587.5h3.8v29.5h-3.8zM841.7,587.5h3.8v22.9h-3.8zM846.5,587.5h3.8v15.0h-3.8zM851.3,587.5h3.8v6.0h-3.8zM856.1,587.5h3.8v2.2h-3.8z" fill="#ffcdd2"/>
<g fill="none" stroke-linejoin="round" stroke-linecap="round">
<path d="M-1.2,591.2 L3.6,591.6 L8.4,593.1 L13.2,600.1 L18.0,615.3 L22.8,617.0 L27.6,618.6 L32.4,631.8 L37.2,651.2 L42.0,671.9 L46.8,684.1 L51.6,698.4 L56.4,710.2 L61.2,717.9 L66.0,724.4 L70.8,722.7 L75.6,721.8 L80.4,720.3 L85.2,718.8 L90.0,718.8 L94.8,714.1 L99.6,710.4 L104.4,707.9 L109.2,701.4 L114.0,689.4 L118.8,677.4 L123.6,665.4 L128.4,652.2 L133.2,641.2 L138.0,632.6 L142.8,629.4 L147.6,631.3 L152.4,633.8 L157.2,643.1 L162.0,644.7 L166.8,643.1 L171.6,643.8 L176.4,648.2 L181.2,653.7 L186.0,660.2 L190.8,665.3 L195.6,667.3 L200.4,669.3 L205.2,671.1 L210.0,676.2 L214.8,679.7 L219.6,673.1 L224.4,665.9 L229.2,658.7 L234.0,650.9 L238.8,644.3 L243.6,640.4 L248.4,641.0 L253.2,638.9 L258.0,639.7 L262.8,643.7 L267.6,647.0 L272.4,647.5 L277.2,641.6 L282.0,634.8 L286.8,630.6 L291.6,624.3 L296.4,616.9 L301.2,613.7 L306.0,605.4 L310.8,601.8 L315.6,607.4 L320.4,612.2 L325.2,612.1 L330.0,606.4 L334.8,594.8 L339.6,580.8 L344.4,570.9 L349.2,566.9 L354.0,566.2 L358.8,567.7 L363.6,568.8 L368.4,569.1 L373.2,567.6 L378.0,567.6 L382.8,563.5 L387.6,559.9 L392.4,554.6 L397.2,547.9 L402.0,542.6 L406.8,545.2 L411.6,547.2 L416.4,554.0 L421.2,561.2 L426.0,567.2 L430.8,569.8 L435.6,571.2 L440.4,570.4 L445.2,569.4 L450.0,567.0 L454.8,563.9 L459.6,564.2 L464.4,565.4 L469.2,571.6 L474.0,575.1 L478.8,577.5 L483.6,581.2 L488.4,577.0 L493.2,568.9 L498.0,560.3 L502.8,554.5 L507.6,550.7 L512.4,547.2 L517.2,543.0 L522.0,541.3 L526.8,540.2 L531.6,539.0 L536.4,534.7 L541.2,532.2 L546.0,528.1 L550.8,524.7 L555.6,522.1 L560.4,524.0 L565.2,526.0 L570.0,529.6 L574.8,534.4 L579.6,538.1 L584.4,545.0 L589.2,551.1 L594.0,554.0 L598.8,553.5 L603.6,546.1 L608.4,539.8 L613.2,536.3 L618.0,539.6 L622.8,545.0 L627.6,548.9 L632.4,551.4 L637.2,555.5 L642.0,560.2 L646.8,560.0 L651.6,556.7 L656.4,553.6 L661.2,551.8 L666.0,555.0 L670.8,560.3 L675.6,567.7 L680.4,575.9 L685.2,582.5 L690.0,590.2 L694.8,603.0 L699.6,614.7 L704.4,625.8 L709.2,636.2 L714.0,644.5 L718.8,651.4 L723.6,653.8 L728.4,655.5 L733.2,655.7 L738.0,662.5 L742.8,668.0 L747.6,671.6 L752.4,672.2 L757.2,668.6 L762.0,662.9 L766.8,649.8 L771.6,637.9 L776.4,625.9 L781.2,613.9 L786.0,605.4 L790.8,598.2 L795.6,591.0 L800.4,587.1 L805.2,588.5 L810.0,590.6 L814.8,595.8 L819.6,608.3 L824.4,624.2 L829.2,641.6 L834.0,657.7 L838.8,660.7 L843.6,660.0 L848.4,656.5 L853.2,649.6 L858.0,645.4 L862.8,651.0" stroke="#52a8f5" stroke-width="1.0"/>
<path d="M-1.2,581.2 L3.6,583.0 L8.4,585.5 L13.2,589.5 L18.0,594.2 L22.8,599.0 L27.6,604.2 L32.4,611.4 L37.2,621.2 L42.0,631.5 L46.8,642.0 L51.6,654.0 L56.4,665.6 L61.2,676.1 L66.0,685.2 L70.8,692.2 L75.6,698.1 L80.4,702.8 L85.2,706.3 L90.0,708.5 L94.8,709.5 L99.6,710.0 L104.4,709.6 L109.2,707.8 L114.0,703.5 L118.8,697.8 L123.6,690.9 L128.4,682.8 L133.2,674.4 L138.0,666.0 L142.8,658.3 L147.6,652.4 L152.4,649.2 L157.2,648.3 L162.0,647.7 L166.8,647.0 L171.6,646.6 L176.4,647.3 L181.2,649.4 L186.0,652.1 L190.8,655.1 L195.6,657.8 L200.4,660.2 L205.2,662.9 L210.0,665.6 L214.8,667.8 L219.6,668.9 L224.4,668.4 L229.2,666.4 L234.0,663.0 L238.8,658.8 L243.6,654.8 L248.4,652.0 L253.2,649.8 L258.0,648.1 L262.8,647.2 L267.6,647.2 L272.4,647.3 L277.2,646.3 L282.0,643.3 L286.8,640.8 L291.6,637.7 L296.4,634.1 L301.2,630.5 L306.0,625.8 L310.8,621.0 L315.6,618.1 L320.4,616.7 L325.2,615.7 L330.0,613.6 L334.8,610.3 L339.6,605.1 L344.4,598.7 L349.2,592.1 L354.0,586.5 L358.8,582.3 L363.6,579.3 L368.4,577.3 L373.2,576.0 L378.0,574.3 L382.8,572.2 L387.6,569.4 L392.4,566.4 L397.2,563.0 L402.0,559.1 L406.8,556.5 L411.6,554.7 L416.4,554.1 L421.2,555.5 L426.0,558.0 L430.8,560.3 L435.6,562.3 L440.4,563.8 L445.2,564.8 L450.0,565.3 L454.8,565.3 L459.6,565.0 L464.4,565.0 L469.2,566.3 L474.0,568.3 L478.8,570.5 L483.6,572.7 L488.4,573.3 L493.2,572.3 L498.0,570.0 L502.8,567.1 L507.6,564.1 L512.4,560.9 L517.2,557.6 L522.0,554.5 L526.8,551.9 L531.6,549.1 L536.4,546.1 L541.2,543.1 L546.0,540.1 L550.8,537.1 L555.6,534.3 L560.4,532.1 L565.2,530.8 L570.0,530.7 L574.8,531.4 L579.6,533.0 L584.4,535.7 L589.2,539.1 L594.0,542.2 L598.8,544.3 L603.6,544.6 L608.4,543.8 L613.2,542.4 L618.0,542.0 L622.8,542.5 L627.6,543.9 L632.4,545.8 L637.2,548.0 L642.0,550.1 L646.8,551.9 L651.6,552.6 L656.4,552.6 L661.2,552.5 L666.0,552.9 L670.8,554.4 L675.6,557.6 L680.4,561.3 L685.2,565.5 L690.0,570.4 L694.8,577.1 L699.6,585.2 L704.4,593.9 L709.2,602.5 L714.0,611.1 L718.8,619.0 L723.6,625.9 L728.4,631.9 L733.2,636.7 L738.0,641.9 L742.8,647.4 L747.6,652.6 L752.4,656.4 L757.2,658.3 L762.0,659.4 L766.8,658.3 L771.6,654.6 L776.4,649.2 L781.2,642.6 L786.0,635.4 L790.8,628.2 L795.6,621.0 L800.4,614.4 L805.2,609.4 L810.0,605.7 L814.8,603.9 L819.6,604.7 L824.4,608.9 L829.2,615.8 L834.0,623.4 L838.8,630.7 L843.6,636.5 L848.4,640.2 L853.2,641.7 L858.0,642.8 L862.8,644.4" stroke="#ff4081" stroke-width="1.9"/>
</g>
<g>
<path d="M0,24.8H181V42.6H153V80.2H0Z" fill="#fff" fill-opacity="0.5"/>
<text x="7.6" y="35.7" font-size="9.6" fill="#131722" stroke="#131722" stroke-width="0.25" textLength="10.6" lengthAdjust="spacingAndGlyphs">BB</text>
<text x="23" y="35.7" font-size="9.6" fill="#5d606b" stroke="#5d606b" stroke-width="0.25" textLength="18.8" lengthAdjust="spacingAndGlyphs">20 2</text>
<text x="54.4" y="35.7" font-size="9.6" fill="#33a3e8" stroke="#33a3e8" stroke-width="0.25" textLength="36.4" lengthAdjust="spacingAndGlyphs">1.37398</text>
<text x="97" y="35.7" font-size="9.6" fill="#2196f3" stroke="#2196f3" stroke-width="0.25" textLength="36" lengthAdjust="spacingAndGlyphs">1.40113</text>
<text x="139.1" y="35.7" font-size="9.6" fill="#2196f3" stroke="#2196f3" stroke-width="0.25" textLength="36.6" lengthAdjust="spacingAndGlyphs">1.34684</text>
<text x="7.3" y="54.9" font-size="9.6" fill="#131722" stroke="#131722" stroke-width="0.25" textLength="12.9" lengthAdjust="spacingAndGlyphs">MA</text>
<text x="24.2" y="54.9" font-size="9.6" fill="#5d606b" stroke="#5d606b" stroke-width="0.25" textLength="75.2" lengthAdjust="spacingAndGlyphs">10 close 0 SMA 9</text>
<text x="112.1" y="54.9" font-size="9.6" fill="#f2b84b" stroke="#f2b84b" stroke-width="0.25" textLength="36" lengthAdjust="spacingAndGlyphs">1.36157</text>
<text x="7.3" y="73.8" font-size="9.6" fill="#131722" stroke="#131722" stroke-width="0.25" textLength="12.9" lengthAdjust="spacingAndGlyphs">MA</text>
<text x="24.2" y="73.8" font-size="9.6" fill="#5d606b" stroke="#5d606b" stroke-width="0.25" textLength="75.2" lengthAdjust="spacingAndGlyphs">50 close 0 SMA 9</text>
<text x="112.1" y="73.8" font-size="9.6" fill="#e0842a" stroke="#e0842a" stroke-width="0.25" textLength="36" lengthAdjust="spacingAndGlyphs">1.38235</text>
</g>
<rect x="7.8" y="82.6" width="22" height="14.6" rx="2" fill="#fff" stroke="#e0e3eb" stroke-width="0.8"/>
<path d="M15.4,92 L18.7,88.7 L22,92" fill="none" stroke="#131722" stroke-width="1.1"/>
<text x="7.2" y="514.2" font-size="9.6" fill="#131722" stroke="#131722" stroke-width="0.25" textLength="26.4" lengthAdjust="spacingAndGlyphs">MACD</text>
<text x="37.5" y="514.2" font-size="9.6" fill="#5d606b" stroke="#5d606b" stroke-width="0.25" textLength="59.5" lengthAdjust="spacingAndGlyphs">12 26 close 9</text>
<text x="109.4" y="514.2" font-size="9.6" fill="#ff5252" stroke="#ff5252" stroke-width="0.25" textLength="42.4" lengthAdjust="spacingAndGlyphs">−0.00064</text>
<text x="157.2" y="514.2" font-size="9.6" fill="#2196f3" stroke="#2196f3" stroke-width="0.25" textLength="42.4" lengthAdjust="spacingAndGlyphs">−0.00603</text>
<text x="205.2" y="514.2" font-size="9.6" fill="#ff4081" stroke="#ff4081" stroke-width="0.25" textLength="42.4" lengthAdjust="spacingAndGlyphs">−0.00539</text>
<text x="980" y="31.2" font-size="10.4" fill="#131722" stroke="#131722" stroke-width="0.25" textLength="31.1" lengthAdjust="spacingAndGlyphs">1.46000</text>
<text x="980" y="69.1" font-size="10.4" fill="#131722" stroke="#131722" stroke-width="0.25" textLength="31.1" lengthAdjust="spacingAndGlyphs">1.45000</text>
<text x="980" y="107.0" font-size="10.4" fill="#131722" stroke="#131722" stroke-width="0.25" textLength="31.1" lengthAdjust="spacingAndGlyphs">1.44000</text>
<text x="980" y="145.0" font-size="10.4" fill="#131722" stroke="#131722" stroke-width="0.25" textLength="31.1" lengthAdjust="spacingAndGlyphs">1.43000</text>
<text x="980" y="182.9" font-size="10.4" fill="#131722" stroke="#131722" stroke-width="0.25" textLength="31.1" lengthAdjust="spacingAndGlyphs">1.42000</text>
<text x="980" y="220.8" font-size="10.4" fill="#131722" stroke="#131722" stroke-width="0.25" textLength="31.1" lengthAdjust="spacingAndGlyphs">1.41000</text>
<text x="980" y="258.7" font-size="10.4" fill="#131722" stroke="#131722" stroke-width="0.25" textLength="31.1" lengthAdjust="spacingAndGlyphs">1.40000</text>
<text x="980" y="296.6" font-size="10.4" fill="#131722" stroke="#131722" stroke-width="0.25" textLength="31.1" lengthAdjust="spacingAndGlyphs">1.39000</text>
<text x="980" y="334.6" font-size="10.4" fill="#131722" stroke="#131722" stroke-width="0.25" textLength="31.1" lengthAdjust="spacingAndGlyphs">1.38000</text>
<text x="980" y="372.5" font-size="10.4" fill="#131722" stroke="#131722" stroke-width="0.25" textLength="31.1" lengthAdjust="spacingAndGlyphs">1.37000</text>
<text x="980" y="410.4" font-size="10.4" fill="#131722" stroke="#131722" stroke-width="0.25" textLength="31.1" lengthAdjust="spacingAndGlyphs">1.36000</text>
<text x="980" y="448.3" font-size="10.4" fill="#131722" stroke="#131722" stroke-width="0.25" textLength="31.1" lengthAdjust="spacingAndGlyphs">1.35000</text>
<text x="980" y="486.2" font-size="10.4" fill="#131722" stroke="#131722" stroke-width="0.25" textLength="31.1" lengthAdjust="spacingAndGlyphs">1.34000</text>
<text x="980" y="538.2" font-size="10.4" fill="#131722" stroke="#131722" stroke-width="0.25" textLength="31.1" lengthAdjust="spacingAndGlyphs">0.00500</text>
<text x="980" y="591.2" font-size="10.4" fill="#131722" stroke="#131722" stroke-width="0.25" textLength="31.1" lengthAdjust="spacingAndGlyphs">0.00000</text>
<text x="980" y="644.2" font-size="10.4" fill="#131722" stroke="#131722" stroke-width="0.25" textLength="36.2" lengthAdjust="spacingAndGlyphs">−0.00500</text>
<text x="980" y="697.2" font-size="10.4" fill="#131722" stroke="#131722" stroke-width="0.25" textLength="36.2" lengthAdjust="spacingAndGlyphs">−0.01000</text>
<path d="M971.1,244.1h43.3a1.6,1.6 0 0 1 1.6,1.6v10.4a1.6,1.6 0 0 1 -1.6,1.6h-43.3z" fill="#2196f3"/>
<text x="980" y="254.6" font-size="10.4" fill="#fff" stroke="#fff" stroke-width="0.15" textLength="31.1" lengthAdjust="spacingAndGlyphs">1.40113</text>
<path d="M971.1,315.1h43.3a1.6,1.6 0 0 1 1.6,1.6v10.4a1.6,1.6 0 0 1 -1.6,1.6h-43.3z" fill="#e07b05"/>
<text x="980" y="325.6" font-size="10.4" fill="#fff" stroke="#fff" stroke-width="0.15" textLength="31.1" lengthAdjust="spacingAndGlyphs">1.38235</text>
<path d="M971.1,347.2h43.3a1.6,1.6 0 0 1 1.6,1.6v10.4a1.6,1.6 0 0 1 -1.6,1.6h-43.3z" fill="#33a3e8"/>
<text x="980" y="357.7" font-size="10.4" fill="#fff" stroke="#fff" stroke-width="0.15" textLength="31.1" lengthAdjust="spacingAndGlyphs">1.37398</text>
<path d="M971.1,393.8h43.3a1.6,1.6 0 0 1 1.6,1.6v10.4a1.6,1.6 0 0 1 -1.6,1.6h-43.3z" fill="#f5b32f"/>
<text x="980" y="404.3" font-size="10.4" fill="#131722" stroke="#131722" stroke-width="0.15" textLength="31.1" lengthAdjust="spacingAndGlyphs">1.36157</text>
<path d="M971.1,416.8h43.3a1.6,1.6 0 0 1 1.6,1.6v10.4a1.6,1.6 0 0 1 -1.6,1.6h-43.3z" fill="#808080"/>
<text x="980" y="427.3" font-size="10.4" fill="#fff" stroke="#fff" stroke-width="0.15" textLength="31.1" lengthAdjust="spacingAndGlyphs">1.35557</text>
<path d="M971.1,449.5h43.3a1.6,1.6 0 0 1 1.6,1.6v10.4a1.6,1.6 0 0 1 -1.6,1.6h-43.3z" fill="#2196f3"/>
<text x="980" y="460.0" font-size="10.4" fill="#fff" stroke="#fff" stroke-width="0.15" textLength="31.1" lengthAdjust="spacingAndGlyphs">1.34684</text>
<path d="M971.1,587.1h47.9a1.6,1.6 0 0 1 1.6,1.6v10.4a1.6,1.6 0 0 1 -1.6,1.6h-47.9z" fill="#ff5252"/>
<text x="980" y="597.6" font-size="10.4" fill="#fff" stroke="#fff" stroke-width="0.15" textLength="36.2" lengthAdjust="spacingAndGlyphs">−0.00064</text>
<path d="M971.1,638.3h47.9a1.6,1.6 0 0 1 1.6,1.6v10.4a1.6,1.6 0 0 1 -1.6,1.6h-47.9z" fill="#ff4081"/>
<text x="980" y="648.8" font-size="10.4" fill="#fff" stroke="#fff" stroke-width="0.15" textLength="36.2" lengthAdjust="spacingAndGlyphs">−0.00539</text>
<path d="M971.1,652.0h47.9a1.6,1.6 0 0 1 1.6,1.6v10.4a1.6,1.6 0 0 1 -1.6,1.6h-47.9z" fill="#2196f3"/>
<text x="980" y="662.5" font-size="10.4" fill="#fff" stroke="#fff" stroke-width="0.15" textLength="36.2" lengthAdjust="spacingAndGlyphs">−0.00603</text>
<rect x="0" y="0" width="1024" height="24.8" fill="#fff"/>
<text x="8.2" y="15.8" font-size="9.64" fill="#131722" textLength="121" lengthAdjust="spacingAndGlyphs" font-weight="bold">USDCAD 1D - 1uptick.com</text>
<text x="13.2" y="760" font-size="9.3" fill="#131722" stroke="#131722" stroke-width="0.25" text-anchor="middle">Apr</text>
<text x="99.6" y="760" font-size="9.3" fill="#131722" stroke="#131722" stroke-width="0.25" text-anchor="middle">May</text>
<text x="181.2" y="760" font-size="9.3" fill="#131722" stroke="#131722" stroke-width="0.25" text-anchor="middle">Jun</text>
<text x="262.8" y="760" font-size="9.3" fill="#131722" stroke="#131722" stroke-width="0.25" text-anchor="middle">Jul</text>
<text x="354.0" y="760" font-size="9.3" fill="#131722" stroke="#131722" stroke-width="0.25" text-anchor="middle">Aug</text>
<text x="430.8" y="760" font-size="9.3" fill="#131722" stroke="#131722" stroke-width="0.25" text-anchor="middle">Sep</text>
<text x="517.2" y="760" font-size="9.3" fill="#131722" stroke="#131722" stroke-width="0.25" text-anchor="middle">Oct</text>
<text x="603.6" y="760" font-size="9.3" fill="#131722" stroke="#131722" stroke-width="0.25" text-anchor="middle">Nov</text>
<text x="680.4" y="760" font-size="9.3" fill="#131722" stroke="#131722" stroke-width="0.25" text-anchor="middle">Dec</text>
<text x="762.0" y="760" font-size="9.4" fill="#131722" textLength="22" lengthAdjust="spacingAndGlyphs" font-weight="bold" text-anchor="middle">2026</text>
<text x="843.6" y="760" font-size="9.3" fill="#131722" stroke="#131722" stroke-width="0.25" text-anchor="middle">Feb</text>
<text x="934.8" y="760" font-size="9.3" fill="#131722" stroke="#131722" stroke-width="0.25" text-anchor="middle">Mar</text>
<circle cx="18.75" cy="728.1" r="13.2" fill="#fff" stroke="#ececec" stroke-width="0.9"/>
<path d="M10.3,724h6.9v8.9h-2.95v-6.1h-3.95z M23.4,724h3.8l-3.14,8.9h-4.06z" fill="#131722"/>
<circle cx="20" cy="725.5" r="1.15" fill="#131722"/>
<path d="M1002.06,756.19L1004.30,757.25L1002.06,758.31ZM1001.65,759.30L1002.48,761.63L1000.15,760.80ZM999.16,761.21L998.10,763.45L997.04,761.21ZM996.05,760.80L993.72,761.63L994.55,759.30ZM994.14,758.31L991.90,757.25L994.14,756.19ZM994.55,755.20L993.72,752.87L996.05,753.70ZM997.04,753.29L998.10,751.05L999.16,753.29ZM1000.15,753.70L1002.48,752.87L1001.65,755.20Z" fill="#434651"/>
<circle cx="998.1" cy="757.25" r="3.7" fill="none" stroke="#434651" stroke-width="1.1"/>
</svg>
</body></html>
